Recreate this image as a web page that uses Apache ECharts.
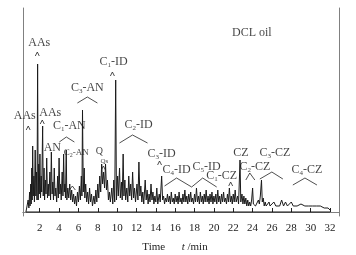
<!DOCTYPE html>
<html>
<head>
<meta charset="utf-8">
<script src="https://cdn.jsdelivr.net/npm/echarts@6/dist/echarts.min.js"></script>
<style>
  html, body { margin: 0; padding: 0; background: #fff; }
  #chart { width: 356px; height: 255px; }
</style>
</head>
<body>
<div id="chart"></div>
<script>
// retention time (min), detector response (arbitrary units)
const trace = [
  [0.57, 0], [0.65, 2], [0.72, 1], [0.8, 6], [0.88, 2], [0.95, 10], [1.0, 3], [1.07, 14], [1.12, 4],
  [1.18, 22], [1.22, 6], [1.27, 33], [1.33, 8], [1.4, 18], [1.45, 5], [1.53, 31], [1.6, 8],
  [1.67, 20], [1.72, 6], [1.78, 74], [1.84, 6], [1.9, 24], [1.95, 9], [2.02, 29], [2.08, 7],
  [2.15, 18], [2.2, 10], [2.3, 43], [2.36, 8], [2.45, 22], [2.5, 6], [2.58, 16], [2.65, 9],
  [2.72, 27], [2.8, 7], [2.88, 14], [2.95, 8], [3.05, 20], [3.12, 6], [3.2, 30], [3.28, 9],
  [3.35, 15], [3.42, 6], [3.5, 22], [3.58, 8], [3.66, 12], [3.75, 5], [3.85, 18], [3.92, 7],
  [4.0, 27], [4.08, 9], [4.15, 14], [4.22, 6], [4.32, 20], [4.4, 8], [4.47, 29], [4.54, 10],
  [4.6, 14], [4.66, 7], [4.74, 31], [4.8, 6], [4.9, 12], [5.0, 7], [5.1, 14], [5.2, 6],
  [5.3, 11], [5.4, 5], [5.5, 9], [5.6, 4], [5.7, 8], [5.8, 3], [5.9, 10], [6.0, 5],
  [6.1, 13], [6.2, 6], [6.3, 18], [6.36, 8], [6.42, 51], [6.5, 10], [6.6, 22], [6.66, 7],
  [6.75, 14], [6.85, 5], [6.95, 10], [7.05, 4], [7.15, 12], [7.25, 5], [7.35, 9], [7.45, 3],
  [7.6, 8], [7.7, 4], [7.8, 11], [7.9, 5], [8.0, 14], [8.1, 7], [8.2, 18], [8.3, 10],
  [8.4, 24], [8.5, 14], [8.6, 20], [8.7, 12], [8.8, 24], [8.9, 11], [9.0, 16], [9.1, 6],
  [9.2, 10], [9.3, 5], [9.45, 12], [9.55, 4], [9.65, 16], [9.75, 5], [9.85, 66], [9.93, 6],
  [10.05, 18], [10.12, 8], [10.25, 22], [10.33, 7], [10.45, 15], [10.52, 6], [10.62, 29], [10.7, 8],
  [10.8, 16], [10.88, 6], [11.0, 12], [11.1, 5], [11.2, 18], [11.3, 8], [11.4, 14], [11.5, 6],
  [11.6, 20], [11.7, 7], [11.8, 12], [11.9, 5], [12.05, 14], [12.15, 6], [12.25, 25], [12.35, 8],
  [12.45, 13], [12.55, 5], [12.65, 10], [12.75, 4], [12.9, 16], [13.0, 6], [13.1, 11], [13.2, 4],
  [13.3, 9], [13.4, 5], [13.5, 14], [13.6, 6], [13.7, 10], [13.8, 4], [13.9, 8], [14.0, 5],
  [14.1, 12], [14.2, 4], [14.35, 9], [14.45, 5], [14.6, 18], [14.7, 6], [14.8, 8], [14.9, 4],
  [15.0, 7], [15.1, 5], [15.2, 9], [15.3, 5], [15.4, 8], [15.5, 4], [15.6, 10], [15.7, 5],
  [15.8, 7], [15.9, 4], [16.0, 9], [16.1, 5], [16.2, 8], [16.3, 4], [16.4, 10], [16.5, 5],
  [16.6, 7], [16.7, 4], [16.8, 9], [16.9, 5], [17.0, 11], [17.1, 5], [17.2, 8], [17.3, 4],
  [17.4, 9], [17.5, 5], [17.6, 10], [17.7, 5], [17.8, 7], [17.9, 4], [18.0, 9], [18.1, 5],
  [18.2, 12], [18.3, 5], [18.4, 8], [18.5, 4], [18.6, 10], [18.7, 5], [18.8, 8], [18.9, 4],
  [19.0, 9], [19.1, 5], [19.2, 11], [19.3, 5], [19.4, 8], [19.5, 4], [19.6, 9], [19.7, 5],
  [19.8, 10], [19.9, 4], [20.0, 8], [20.1, 5], [20.2, 9], [20.3, 4], [20.4, 11], [20.5, 5],
  [20.6, 8], [20.7, 4], [20.8, 9], [20.9, 5], [21.0, 10], [21.1, 5], [21.2, 7], [21.3, 4],
  [21.4, 9], [21.5, 5], [21.6, 12], [21.7, 5], [21.8, 8], [21.9, 4], [22.0, 9], [22.1, 5],
  [22.2, 11], [22.3, 5], [22.45, 8], [22.55, 4], [22.7, 26], [22.78, 5], [22.9, 9], [23.0, 4],
  [23.1, 8], [23.2, 4], [23.3, 7], [23.4, 3], [23.5, 6], [23.6, 3], [23.7, 5], [23.8, 3],
  [23.9, 6], [24.0, 12], [24.08, 4], [24.2, 5], [24.3, 3], [24.4, 4], [24.5, 3], [24.6, 6],
  [24.7, 4], [24.8, 8], [24.92, 16], [25.0, 5], [25.1, 7], [25.2, 3], [25.3, 5], [25.4, 3],
  [25.5, 4], [25.6, 3], [25.7, 5], [25.8, 3], [25.9, 4], [26.0, 3], [26.2, 5], [26.4, 3],
  [26.6, 4], [26.8, 3], [27.0, 6], [27.2, 3], [27.4, 5], [27.6, 3], [27.8, 4], [28.0, 5],
  [28.2, 3], [28.4, 4], [28.6, 3], [28.8, 3], [29.0, 4], [29.2, 3], [29.4, 3], [29.6, 2],
  [29.8, 3], [30.0, 2], [30.2, 3], [30.4, 2], [30.6, 3], [30.8, 2], [31.0, 3], [31.2, 2],
  [31.4, 2], [31.6, 2], [31.8, 2], [32.0, 1]
];

const baseline = [[0.57, 0], [32.0, 0]];

const tickValues = [2, 4, 6, 8, 10, 12, 14, 16, 18, 20, 22, 24, 26, 28, 30, 32];

// peak group labels: [time, response, text, font size]
const peakLabels = [
  [0.45, 48, 'AAs', 12], [1.95, 84.5, 'AAs', 12], [3.09, 49.5, 'AAs', 12],
  [5.06, 43, 'C{s|1}-AN', 12], [3.3, 32, 'AN', 12], [5.78, 29.5, 'C{t|2}-AN', 9],
  [6.92, 62, 'C{s|3}-AN', 12], [9.62, 75, 'C{s|1}-ID', 12], [12.21, 43.5, 'C{s|2}-ID', 12],
  [8.16, 30.5, 'Q', 10], [8.68, 25.5, 'Qs', 7],
  [14.59, 29, 'C{s|3}-ID', 12], [16.14, 21, 'C{s|4}-ID', 12], [19.25, 22.5, 'C{s|5}-ID', 12],
  [20.81, 18, 'C{s|1}-CZ', 12], [22.78, 29.5, 'CZ', 12], [24.23, 22.5, 'C{s|2}-CZ', 12],
  [26.3, 29.5, 'C{s|3}-CZ', 12], [29.62, 21, 'C{s|4}-CZ', 12],
  [23.92, 89.5, 'DCL oil', 12]
];

// brackets under labels, each a polyline of [time, response]
const brackets = [
  [[0.6, 41], [0.81, 43], [1.01, 41]],
  [[1.54, 78], [1.75, 80], [1.95, 78]],
  [[2.05, 44], [2.26, 46], [2.47, 44]],
  [[4.02, 35], [4.75, 37.5], [5.58, 35]],
  [[5.06, 11], [5.37, 13], [5.68, 11]],
  [[5.89, 54.5], [6.92, 57.5], [7.96, 54.5]],
  [[9.3, 68], [9.51, 70], [9.72, 68]],
  [[10.24, 34.5], [11.59, 38.5], [13.14, 34.5]],
  [[8.37, 21], [8.58, 23], [8.79, 21]],
  [[14.18, 23.5], [14.38, 25.5], [14.59, 23.5]],
  [[14.9, 13], [16.14, 17], [17.7, 12.5], [18.84, 17], [20.29, 12.5]],
  [[21.53, 13], [21.73, 15], [21.94, 13]],
  [[23.3, 16], [23.71, 19.5], [24.23, 16]],
  [[24.75, 16.5], [25.99, 20], [27.13, 16.5]],
  [[28.16, 13.5], [29.41, 17], [30.65, 13.5]]
];

const bracketData = [];
brackets.forEach(function (b, i) {
  if (i > 0) bracketData.push([null, null]);
  b.forEach(function (p) { bracketData.push(p); });
});

const serif = 'Liberation Serif';
const chart = echarts.init(document.getElementById('chart'), null, { renderer: 'canvas' });

const frameLine = { lineStyle: { color: '#808080', width: 1 } };

const option = {
  animation: false,
  grid: { left: 23, right: 17, top: 8, bottom: 39, outerBoundsMode: 'none' },
  xAxis: [{
    type: 'value',
    min: 0.27,
    max: 32.93,
    axisLine: frameLine,
    axisTick: { inside: true, length: 4, lineStyle: { color: '#222' }, customValues: tickValues },
    axisLabel: { color: '#222', fontFamily: serif, fontSize: 11, margin: 7, customValues: tickValues },
    splitLine: { show: false },
    name: 'Time      {i|t} /min',
    nameLocation: 'middle',
    nameGap: 26,
    nameTextStyle: {
      color: '#222', fontFamily: serif, fontSize: 11, padding: [0, 12, 0, 0],
      rich: { i: { fontStyle: 'italic', fontFamily: serif, fontSize: 11, color: '#222' } }
    }
  }, {
    type: 'value',
    position: 'top',
    min: 0.27,
    max: 32.93,
    axisLine: frameLine,
    axisTick: { show: false },
    axisLabel: { show: false },
    splitLine: { show: false }
  }],
  yAxis: [{
    type: 'value',
    min: -2,
    max: 102,
    axisLine: Object.assign({ show: true }, frameLine),
    axisTick: { show: false },
    axisLabel: { show: false },
    splitLine: { show: false }
  }, {
    type: 'value',
    position: 'right',
    min: -2,
    max: 102,
    axisLine: Object.assign({ show: true }, frameLine),
    axisTick: { show: false },
    axisLabel: { show: false },
    splitLine: { show: false }
  }],
  series: [
    {
      type: 'line',
      data: baseline,
      symbol: 'none',
      lineStyle: { color: '#111', width: 1 },
      z: 1
    },
    {
      type: 'line',
      data: trace,
      symbol: 'none',
      lineStyle: { color: '#1a1a1a', width: 1 },
      z: 2
    },
    {
      type: 'line',
      data: bracketData,
      connectNulls: false,
      symbol: 'none',
      lineStyle: { color: '#222', width: 0.8 },
      z: 3
    },
    {
      type: 'scatter',
      data: peakLabels.map(function (d) { return { value: [d[0], d[1]], text: d[2], size: d[3] }; }),
      symbolSize: 0,
      z: 4,
      label: {
        show: true,
        position: 'inside',
        color: '#111',
        fontFamily: serif,
        formatter: function (p) { return p.data.text; },
        rich: {
          s: { fontSize: 7, fontFamily: serif, color: '#111', padding: [7, 0, 0, 0] },
          t: { fontSize: 6, fontFamily: serif, color: '#111', padding: [5, 0, 0, 0] }
        }
      }
    }
  ]
};

// per-label font sizes
option.series[3].data.forEach(function (d) {
  d.label = { fontSize: d.size };
});

chart.setOption(option);
</script>
</body>
</html>
